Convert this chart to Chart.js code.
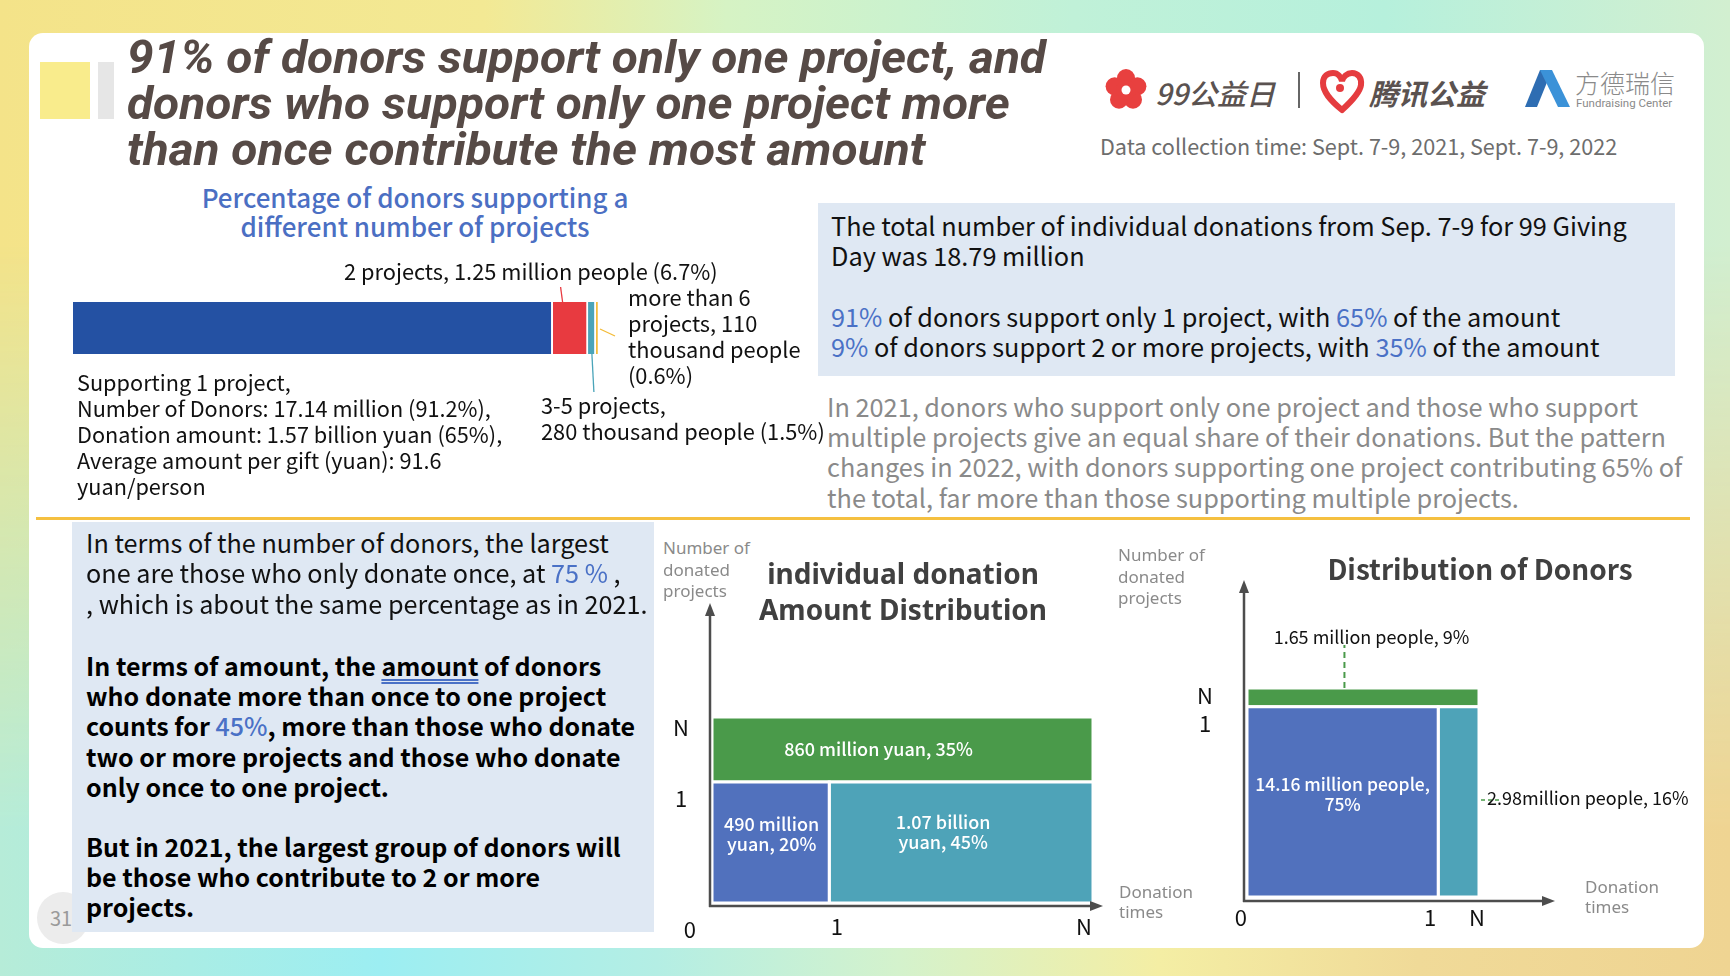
<!DOCTYPE html>
<html lang="en"><head><meta charset="utf-8">
<title>91% of donors support only one project</title>
<script src="https://cdn.jsdelivr.net/npm/chart.js@4.4.1/dist/chart.umd.min.js"></script>
<style>
html,body{margin:0;padding:0}
body{width:1730px;height:976px;position:relative;overflow:hidden;
 background:linear-gradient(90deg,#f4e389 0%,#f3e994 28%,#d6f3c4 42%,#c0f1d8 62%,#b6f0dc 80%,#d2efd0 100%);}
#bgb{position:absolute;left:0;top:0;width:1730px;height:976px;
 background:linear-gradient(90deg,#b6ecd8 0%,#9ceef2 22%,#b4eee4 38%,#d4f2cc 52%,#f4eea4 67%,#f0da98 82%,#efd492 100%);
 -webkit-mask-image:linear-gradient(180deg,transparent 25%,#000 85%);mask-image:linear-gradient(180deg,transparent 25%,#000 85%);}
#card{position:absolute;left:29px;top:33px;width:1675px;height:915px;background:#fff;border-radius:14px}
.box{position:absolute;background:#dfe8f3}
.tx{position:absolute;white-space:nowrap;font-family:"Noto Sans CJK SC","Noto Sans",sans-serif;}
.hl{color:#4a71c6}
canvas{position:absolute}
</style></head><body>
<div id="bgb"></div>
<div id="card"></div>
<div style="position:absolute;left:40px;top:62px;width:50px;height:57px;background:#f9ec8c"></div>
<div style="position:absolute;left:98px;top:62px;width:16px;height:57px;background:#e6e6e6"></div>
<div style="position:absolute;left:37px;top:892px;width:52px;height:52px;border-radius:50%;background:#ececec"></div>
<div class="tx" style="left:50px;top:905px;font-size:20px;line-height:26px;color:#9a9a9a">31</div>
<div class="box" style="left:818px;top:203px;width:857px;height:173px"></div>
<div class="box" style="left:72px;top:522px;width:582px;height:410px"></div>
<div style="position:absolute;left:36px;top:517px;width:1654px;height:3px;background:#f5c040"></div>

<!-- logos -->
<svg style="position:absolute;left:1100px;top:62px" width="480" height="56" viewBox="0 0 480 56">
  <g transform="translate(26,28)" fill="#e8403f">
    <circle cx="0" cy="-12" r="9"/><circle cx="11.4" cy="-3.7" r="9"/><circle cx="7" cy="9.7" r="9"/>
    <circle cx="-7" cy="9.7" r="9"/><circle cx="-11.4" cy="-3.7" r="9"/><circle cx="0" cy="0" r="10"/>
    <circle cx="0" cy="0" r="4.5" fill="#fff"/>
  </g>
  <line x1="199" y1="10" x2="199" y2="46" stroke="#666" stroke-width="2"/>
  <g transform="translate(220,8)" fill="none" stroke="#e53c3f" stroke-width="6" stroke-linecap="round">
    <path d="M22 40 C10 30 3 22 3 13 C3 6 8 3 13 3 C18 3 21 7 22 11 C23 7 27 3 32 3 C38 3 42 8 41 15 C40 22 33 30 22 40"/>
  </g>
  <circle cx="240" cy="26" r="4" fill="#e53c3f"/>
  <polygon points="440,8 452,8 437,45 425,45" fill="#2e6db2"/>
  <polygon points="440,8 452,8 470,45 458,45" fill="#3b92d8"/>
</svg>
<div class="tx" style="left:1155px;top:72px;font-size:29px;line-height:40px;color:#5a5250;font-style:italic;font-weight:500">99公益日</div>
<div class="tx" style="left:1369px;top:72px;font-size:29px;line-height:40px;color:#5a5250;font-style:italic;font-weight:700">腾讯公益</div>
<div class="tx" style="left:1575px;top:66px;font-size:25px;line-height:32px;color:#8a8a8a;font-weight:300">方德瑞信</div>
<div class="tx" style="left:1576px;top:96px;font-size:11.5px;line-height:14px;color:#8a8a8a;font-family:Roboto,sans-serif">Fundraising Center</div>

<canvas id="c1" width="700" height="200" style="left:60px;top:262px"></canvas>
<canvas id="c2" width="480" height="370" style="left:640px;top:580px"></canvas>
<canvas id="c3" width="540" height="390" style="left:1160px;top:560px"></canvas>

<script>
// ===== DATA =====
// Chart 1: share of donors by number of projects supported (stacked bar)
const projectCategories = ['1 project', '2 projects', '3-5 projects', 'more than 6 projects'];
const projectSharePct = [91.2, 6.7, 1.5, 0.6];
const projectColors = ['#2451a3', '#e83a40', '#4aa4b9', '#f3bb38'];

// Chart 2: donation amount distribution (mosaic): once/one project, >once/one project, 2+ projects
const amountCategories = ['Donate once to one project', 'Donate more than once to one project', 'Donate to two or more projects'];
const amountSharePct = [20, 45, 35];
const amountValueLabels = [['490 million', 'yuan, 20%'], ['1.07 billion', 'yuan, 45%'], ['860 million yuan, 35%']];
const amountColors = ['#5171bd', '#4ea3b8', '#4a9a4a'];

// Chart 3: distribution of donors (mosaic)
const donorCategories = ['Donate once to one project', 'Donate more than once to one project', 'Donate to two or more projects'];
const donorSharePct = [75, 16, 9];
const donorValueLabels = [['14.16 million people,', '75%'], ['2.98million people, 16%'], ['1.65 million people, 9%']];
const donorColors = ['#5171bd', '#4ea3b8', '#4a9a4a'];

// Tick labels
const amountXTickLabels = ['0', '1', 'N'];
const amountYTickLabels = ['1', 'N'];
const donorXTickLabels = ['0', '1', 'N'];
const donorYTickLabels = ['1', 'N'];

// ===== TEXT HELPERS =====
const CJK = '"Noto Sans CJK SC","Noto Sans",sans-serif';
function addLines(lines, o) {
  const out = [];
  lines.forEach((ln, i) => {
    const d = document.createElement('div');
    d.className = 'tx';
    d.style.fontFamily = o.family || CJK;
    d.style.fontSize = o.size + 'px';
    d.style.fontWeight = o.weight || 400;
    d.style.fontStyle = o.style || 'normal';
    d.style.lineHeight = o.lh + 'px';
    d.style.color = o.color || '#111';
    d.style.top = (o.y + i * o.lh - o.lh / 2) + 'px';
    d.style.left = o.x + 'px';
    if (o.align === 'center') d.style.transform = 'translateX(-50%)';
    d.innerHTML = ln;
    document.body.appendChild(d);
    out.push(d);
  });
  return out;
}

// Title
const titleEls = addLines([
  '91% of donors support only one project, and',
  'donors who support only one project more',
  'than once contribute the most amount'
], {x: 127, y: 57, lh: 46, size: 47, weight: 700, style: 'italic', family: 'Roboto,sans-serif', color: '#564a46'});
const sc = 919 / titleEls[0].getBoundingClientRect().width;
titleEls.forEach(e => { e.style.transformOrigin = 'left center'; e.style.transform = 'scaleX(' + sc + ')'; });

addLines(['Data collection time: Sept. 7-9, 2021, Sept. 7-9, 2022'], {x: 1100, y: 146, lh: 28, size: 21.6, color: '#6d6d6d'});

// Chart 1 title and annotations
addLines(['Percentage of donors supporting a', 'different number of projects'],
  {x: 415, y: 196, lh: 29, size: 26, weight: 500, color: '#4b6fc3', align: 'center'});
addLines(['2 projects, 1.25 million people (6.7%)'], {x: 344, y: 271, lh: 26, size: 21.8});
addLines(['more than 6', 'projects, 110', 'thousand people', '(0.6%)'], {x: 628, y: 297, lh: 26, size: 21.8});
addLines(['3-5 projects,', '280 thousand people (1.5%)'], {x: 541, y: 405, lh: 25.5, size: 21.8});
addLines(['Supporting 1 project,', 'Number of Donors: 17.14 million (91.2%),', 'Donation amount: 1.57 billion yuan (65%),',
  'Average amount per gift (yuan): 91.6', 'yuan/person'], {x: 77, y: 382, lh: 26, size: 21.7});

// Right-top box
addLines(['The total number of individual donations from Sep. 7-9 for 99 Giving', 'Day was 18.79 million'],
  {x: 831, y: 225, lh: 30, size: 25.3});
addLines(['<span class="hl">91%</span> of donors support only 1 project, with <span class="hl">65%</span> of the amount',
  '<span class="hl">9%</span> of donors support 2 or more projects, with <span class="hl">35%</span> of the amount'],
  {x: 831, y: 316, lh: 30, size: 25.3});
addLines(['In 2021, donors who support only one project and those who support',
  'multiple projects give an equal share of their donations. But the pattern',
  'changes in 2022, with donors supporting one project contributing 65% of',
  'the total, far more than those supporting multiple projects.'],
  {x: 827, y: 406, lh: 30.3, size: 25.3, color: '#8a8a8a'});

// Left-bottom box
addLines(['In terms of the number of donors, the largest',
  'one are those who only donate once, at <span class="hl">75 %</span> ,',
  ', which is about the same percentage as in 2021.'], {x: 86, y: 542, lh: 30.5, size: 25.2});
addLines(['In terms of amount, the <span style="text-decoration:underline double #4a71c6;text-underline-offset:3px">amount</span> of donors',
  'who donate more than once to one project',
  'counts for <span class="hl" style="font-weight:500">45%</span>, more than those who donate',
  'two or more projects and those who donate',
  'only once to one project.'], {x: 86, y: 665, lh: 30.3, size: 25, weight: 700, color: '#000'});
addLines(['But in 2021, the largest group of donors will', 'be those who contribute to 2 or more', 'projects.'],
  {x: 86, y: 846, lh: 30, size: 25, weight: 700, color: '#000'});

// Mosaic chart titles / axis names
addLines(['Number of', 'donated', 'projects'], {x: 663, y: 548, lh: 21.5, size: 17, color: '#8a8a8a', family: '"Noto Sans",sans-serif'});
addLines(['individual donation', 'Amount Distribution'], {x: 903, y: 573, lh: 36, size: 28, weight: 700, color: '#404040', align: 'center', family: '"Noto Sans",sans-serif'});
addLines(['Donation', 'times'], {x: 1119, y: 892, lh: 20, size: 17, color: '#8a8a8a', family: '"Noto Sans",sans-serif'});
addLines(['Number of', 'donated', 'projects'], {x: 1118, y: 555, lh: 21.5, size: 17, color: '#8a8a8a', family: '"Noto Sans",sans-serif'});
addLines(['Distribution of Donors'], {x: 1480, y: 568, lh: 36, size: 28, weight: 700, color: '#404040', align: 'center', family: CJK});
addLines(['Donation', 'times'], {x: 1585, y: 887, lh: 20, size: 17, color: '#8a8a8a', family: '"Noto Sans",sans-serif'});

// ===== CHART 1: stacked horizontal bar =====
const c1Leaders = {
  id: 'leaders',
  afterDatasetsDraw(chart) {
    const ctx = chart.ctx;
    const seg = i => chart.getDatasetMeta(i).data[0].getProps(['x', 'base', 'y', 'height'], true);
    ctx.save();
    ctx.lineWidth = 1.3;
    let s = seg(1);
    let lx = s.base + (s.x - s.base) * 0.28;
    ctx.strokeStyle = projectColors[1];
    ctx.beginPath(); ctx.moveTo(lx, s.y - s.height / 2); ctx.lineTo(lx - 2, s.y - s.height / 2 - 15); ctx.stroke();
    s = seg(2);
    lx = (s.base + s.x) / 2;
    ctx.strokeStyle = projectColors[2];
    ctx.beginPath(); ctx.moveTo(lx, s.y + s.height / 2); ctx.lineTo(lx + 2, s.y + s.height / 2 + 38); ctx.stroke();
    s = seg(3);
    ctx.strokeStyle = projectColors[3];
    ctx.beginPath(); ctx.moveTo(s.x + 1, s.y + 1); ctx.lineTo(s.x + 16, s.y + 8); ctx.stroke();
    ctx.restore();
  }
};
new Chart(document.getElementById('c1'), {
  type: 'bar',
  data: {
    labels: ['2022'],
    datasets: projectCategories.map((c, i) => ({
      label: c, data: [projectSharePct[i]], backgroundColor: projectColors[i],
      borderColor: '#ffffff', borderWidth: {left: 0, top: 0, bottom: 0, right: 2}, borderSkipped: false,
      categoryPercentage: 1, barPercentage: 1
    }))
  },
  options: {
    indexAxis: 'y', responsive: false, animation: false,
    layout: {padding: {left: 13, right: 161, top: 40, bottom: 108}},
    scales: {x: {stacked: true, min: 0, max: 100, display: false}, y: {stacked: true, display: false}},
    plugins: {legend: {display: false}, tooltip: {enabled: false}}
  },
  plugins: [c1Leaders]
});

// ===== MOSAIC CHARTS =====
function rect(x0, x1, y0, y1) { return [{x: x0, y: y0}, {x: x1, y: y0}, {x: x1, y: y1}, {x: x0, y: y1}, {x: x0, y: y0}]; }
function mosaic(shares) {
  const bottom = shares[0] + shares[1], total = bottom + shares[2];
  const h = bottom / total * 100, split = shares[0] / bottom * 100;
  return [rect(0, split, 0, h), rect(split, 100, 0, h), rect(0, 100, h, 100)];
}
function bounds(pts) {
  const xs = pts.map(p => p.x), ys = pts.map(p => p.y);
  return {x0: Math.min(...xs), x1: Math.max(...xs), y0: Math.min(...ys), y1: Math.max(...ys)};
}
function mosaicPlugin(cfg) {
  return {
    id: 'mosaic',
    afterDraw(chart) {
      const ctx = chart.ctx, a = chart.chartArea, sx = chart.scales.x, sy = chart.scales.y;
      ctx.save();
      const ax = a.left + cfg.axis.dx, ay = a.bottom + cfg.axis.dy;
      const topY = a.top - cfg.axis.up, rightX = a.right + cfg.axis.right;
      ctx.strokeStyle = '#4d4d4d'; ctx.fillStyle = '#4d4d4d'; ctx.lineWidth = 2.5;
      ctx.beginPath(); ctx.moveTo(ax, ay + 1); ctx.lineTo(ax, topY + 10); ctx.stroke();
      ctx.beginPath(); ctx.moveTo(ax - 1, ay); ctx.lineTo(rightX - 10, ay); ctx.stroke();
      ctx.beginPath(); ctx.moveTo(ax, topY); ctx.lineTo(ax - 5, topY + 13); ctx.lineTo(ax + 5, topY + 13); ctx.closePath(); ctx.fill();
      ctx.beginPath(); ctx.moveTo(rightX, ay); ctx.lineTo(rightX - 13, ay - 5); ctx.lineTo(rightX - 13, ay + 5); ctx.closePath(); ctx.fill();
      // tick labels
      ctx.font = '22px "Noto Sans CJK SC"'; ctx.fillStyle = '#111'; ctx.textAlign = 'center'; ctx.textBaseline = 'middle';
      cfg.xTicks.forEach((t, i) => ctx.fillText(t, sx.getPixelForValue(cfg.xTickAt[i]), a.bottom + cfg.xTickDy + (cfg.xTickExtra[i] || 0)));
      cfg.yTicks.forEach((t, i) => ctx.fillText(t, a.left + cfg.yTickDx, sy.getPixelForValue(cfg.yTickAt[i])));
      // value labels
      chart.data.datasets.forEach((ds, i) => {
        const L = cfg.labels[i], b = bounds(ds.data);
        const px0 = sx.getPixelForValue(b.x0), px1 = sx.getPixelForValue(b.x1);
        const py0 = sy.getPixelForValue(b.y1), py1 = sy.getPixelForValue(b.y0); // top, bottom
        ctx.font = (L.weight || 500) + ' ' + L.size + 'px "Noto Sans CJK SC"';
        ctx.fillStyle = L.color; ctx.textBaseline = 'middle';
        const lines = L.lines, n = lines.length;
        if (L.pos === 'inside') {
          ctx.textAlign = 'center';
          const cx = (px0 + px1) / 2 + L.dx, cy = (py0 + py1) / 2 + L.dy;
          lines.forEach((t, k) => ctx.fillText(t, cx, cy + (k - (n - 1) / 2) * L.lh));
        } else if (L.pos === 'right') {
          const cy = (py0 + py1) / 2 + L.dy;
          ctx.save(); ctx.setLineDash([4, 3]); ctx.strokeStyle = '#4a9a4a'; ctx.lineWidth = 1.5;
          ctx.beginPath(); ctx.moveTo(px1 + 2, cy + 2); ctx.lineTo(px1 + 22, cy + 2); ctx.stroke(); ctx.restore();
          ctx.textAlign = 'left';
          lines.forEach((t, k) => ctx.fillText(t, px1 + L.dx, cy + k * L.lh));
        } else if (L.pos === 'above') {
          const lx = px0 + (px1 - px0) * L.at;
          ctx.save(); ctx.setLineDash([6, 4]); ctx.strokeStyle = '#4a9a4a'; ctx.lineWidth = 2;
          ctx.beginPath(); ctx.moveTo(lx, py0); ctx.lineTo(lx, py0 - L.len); ctx.stroke(); ctx.restore();
          ctx.textAlign = 'center';
          lines.forEach((t, k) => ctx.fillText(t, lx + L.dx, py0 - L.len + L.dy + k * L.lh));
        }
      });
      ctx.restore();
    }
  };
}
function mosaicChart(id, cats, shares, colors, padding, cfg) {
  const rects = mosaic(shares);
  return new Chart(document.getElementById(id), {
    type: 'scatter',
    data: {
      datasets: cats.map((c, i) => ({
        label: c, data: rects[i], showLine: true, fill: 'shape', tension: 0,
        backgroundColor: colors[i], borderColor: '#ffffff', borderWidth: 3, pointRadius: 0, clip: false
      }))
    },
    options: {
      responsive: false, animation: false,
      layout: {padding: padding},
      scales: {x: {type: 'linear', min: 0, max: 100, display: false}, y: {type: 'linear', min: 0, max: 100, display: false}},
      plugins: {legend: {display: false}, tooltip: {enabled: false}}
    },
    plugins: [mosaicPlugin(cfg)]
  });
}

mosaicChart('c2', amountCategories, amountSharePct, amountColors,
  {left: 72, right: 27, top: 137, bottom: 47},
  {
    axis: {dx: -2, dy: 3, up: 114, right: 10},
    xTicks: amountXTickLabels, xTickAt: [-5.8, 32.8, 97.6], xTickDy: 24, xTickExtra: [3, 0, 0],
    yTicks: amountYTickLabels, yTickAt: [55.9, 94.1], yTickDx: -31,
    labels: [
      {pos: 'inside', lines: amountValueLabels[0], size: 18, lh: 20, color: '#fff', dx: 1, dy: -8},
      {pos: 'inside', lines: amountValueLabels[1], size: 18, lh: 20, color: '#fff', dx: -18, dy: -10},
      {pos: 'inside', lines: amountValueLabels[2], size: 18, lh: 20, color: '#fff', dx: -24, dy: 0}
    ]
  });

mosaicChart('c3', donorCategories, donorSharePct, donorColors,
  {left: 87, right: 221, top: 128, bottom: 53},
  {
    axis: {dx: -3, dy: 4, up: 108, right: 76},
    xTicks: donorXTickLabels, xTickAt: [-2.6, 78.9, 99.1], xTickDy: 21, xTickExtra: [0, 0, 0],
    yTicks: donorYTickLabels, yTickAt: [82.8, 96.2], yTickDx: -42,
    labels: [
      {pos: 'inside', lines: donorValueLabels[0], size: 17.5, lh: 20, color: '#fff', dx: 0, dy: -8},
      {pos: 'right', lines: donorValueLabels[1], size: 18, lh: 20, color: '#111', weight: 400, dx: 8, dy: -4},
      {pos: 'above', lines: donorValueLabels[2], size: 18, lh: 20, color: '#111', weight: 400, at: 0.42, len: 43, dx: 27, dy: -8}
    ]
  });
</script>
</body></html>
